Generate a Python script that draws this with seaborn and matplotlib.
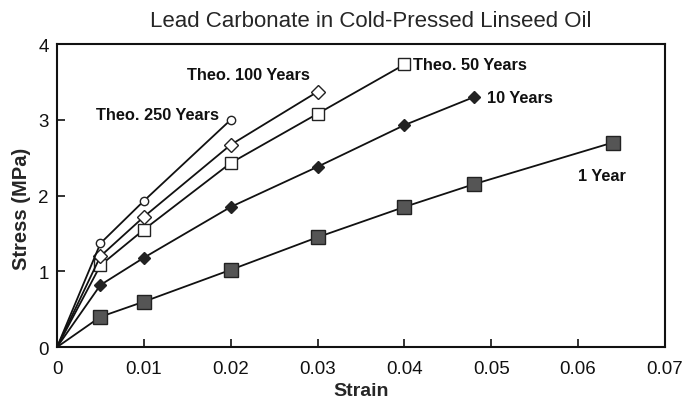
import matplotlib
matplotlib.use("Agg")
import matplotlib.pyplot as plt
import seaborn as sns
import pandas as pd

sns.set_theme(style="ticks")
plt.rcParams['font.family'] = ['Liberation Sans', 'DejaVu Sans']

strain_1 = [0, 0.005, 0.01, 0.02, 0.03, 0.04, 0.048, 0.064]
stress_1 = [0, 0.40, 0.60, 1.02, 1.45, 1.85, 2.15, 2.70]
strain_10 = [0, 0.005, 0.01, 0.02, 0.03, 0.04, 0.048]
stress_10 = [0, 0.82, 1.18, 1.85, 2.38, 2.93, 3.30]
strain_50 = [0, 0.005, 0.01, 0.02, 0.03, 0.04]
stress_50 = [0, 1.08, 1.55, 2.43, 3.08, 3.73]
strain_100 = [0, 0.005, 0.01, 0.02, 0.03]
stress_100 = [0, 1.20, 1.72, 2.67, 3.37]
strain_250 = [0, 0.005, 0.01, 0.02]
stress_250 = [0, 1.37, 1.93, 3.00]

series = [
    ("1 Year", strain_1, stress_1, dict(marker="s", ms=10, mfc="#555555", mec="#222222")),
    ("10 Years", strain_10, stress_10, dict(marker="D", ms=6, mfc="#222222", mec="#222222")),
    ("Theo. 50 Years", strain_50, stress_50, dict(marker="s", ms=9, mfc="white", mec="#222222")),
    ("Theo. 100 Years", strain_100, stress_100, dict(marker="D", ms=7, mfc="white", mec="#222222")),
    ("Theo. 250 Years", strain_250, stress_250, dict(marker="o", ms=6, mfc="white", mec="#222222")),
]

fig = plt.figure(figsize=(6.82, 4.02), dpi=100)
ax = fig.add_axes([0.0836, 0.134, 0.8914, 0.754])

for name, xs, ys, st in series:
    df = pd.DataFrame({"Strain": xs, "Stress": ys})
    sns.lineplot(data=df, x="Strain", y="Stress", ax=ax, color="#111111", lw=1.3,
                 markevery=list(range(1, len(xs))), mew=1.0, **st)

ax.set_xlim(0, 0.07)
ax.set_ylim(0, 4)
ax.set_xticks([0, 0.01, 0.02, 0.03, 0.04, 0.05, 0.06, 0.07])
ax.set_xticklabels(["0", "0.01", "0.02", "0.03", "0.04", "0.05", "0.06", "0.07"])
ax.set_yticks([0, 1, 2, 3, 4])
ax.tick_params(direction="in", length=6, width=1.2, labelsize=13.5, colors="#111111")
ax.tick_params(axis="x", pad=9)
ax.tick_params(axis="y", pad=6)
for s in ax.spines.values():
    s.set_linewidth(1.5)
    s.set_color("#111111")
ax.set_xlabel("Strain", fontsize=14, fontweight="bold")
ax.set_ylabel("Stress (MPa)", fontsize=14.5, fontweight="bold")
ax.xaxis.set_label_coords(0.5, -0.115)
ax.yaxis.set_label_coords(-0.042, 0.46)
fig.suptitle("Lead Carbonate in Cold-Pressed Linseed Oil", fontsize=16, x=0.544, y=0.972)

lab = dict(fontsize=11.8, fontweight="bold", color="#111111")
ax.text(0.0045, 3.07, "Theo. 250 Years", ha="left", va="center", **lab)
ax.text(0.0150, 3.60, "Theo. 100 Years", ha="left", va="center", **lab)
ax.text(0.0410, 3.73, "Theo. 50 Years", ha="left", va="center", **lab)
ax.text(0.0495, 3.30, "10 Years", ha="left", va="center", **lab)
ax.text(0.0600, 2.26, "1 Year", ha="left", va="center", **lab)

fig.savefig("out.png", dpi=100)
